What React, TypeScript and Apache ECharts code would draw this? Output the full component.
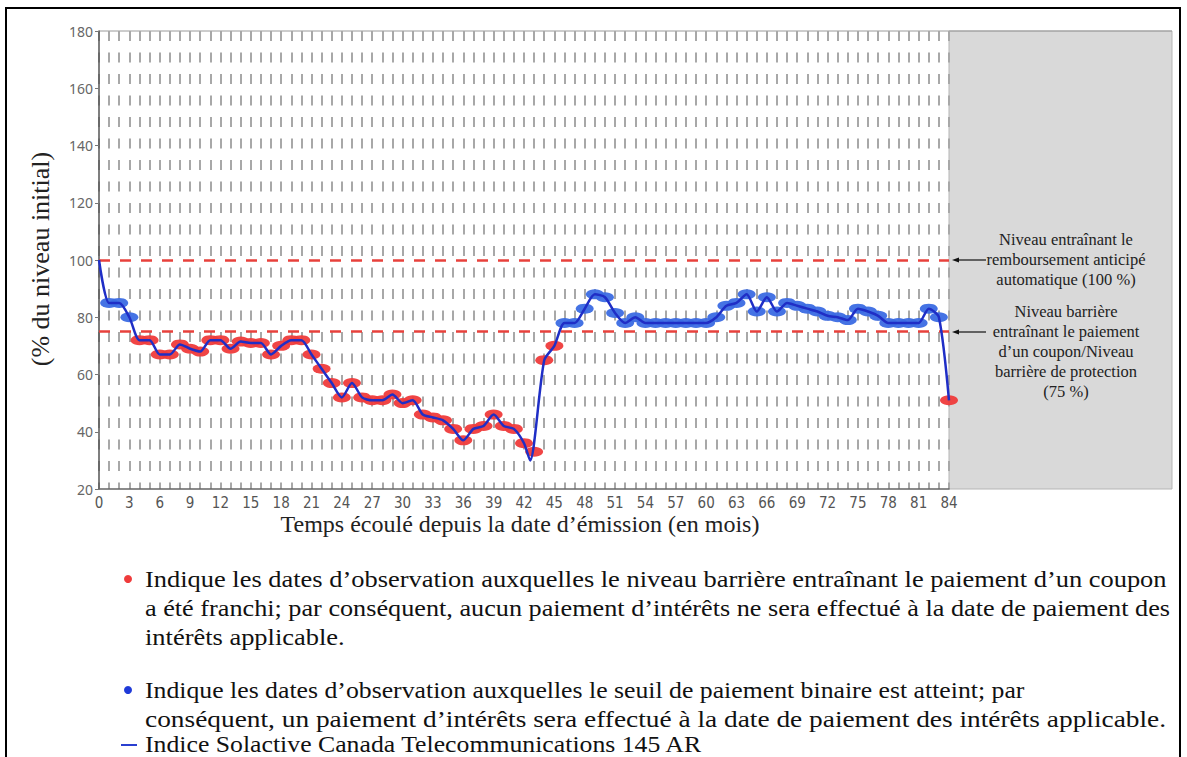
import React, { useEffect, useRef } from "react";
import * as echarts from "echarts";

// Niveau de l'indice (% du niveau initial) à chaque mois écoulé, index = mois (0..84)
const levels = [
  100, 85, 85, 80, 72, 72, 67, 67, 70.5, 69,
  68, 72, 72, 69, 71.5, 71, 71, 67, 70, 72,
  72, 67, 62, 57, 52, 57, 52, 51, 51, 53,
  50, 51, 46, 45, 44, 41, 37, 41, 42, 46,
  42, 41, 36, 33, 65, 70, 78, 78, 83, 88,
  87, 81.5, 78, 80, 78, 78, 78, 78, 78, 78,
  78, 80, 84, 85, 88, 82, 87, 82, 85, 84,
  83, 82, 80.5, 80, 79, 83, 82, 80.5, 78, 78,
  78, 78, 83, 80, 51,
];
// creux intra-mois de la courbe (entre les mois 42 et 43)
const troughMonth = 42.6;
const troughValue = 30;
const troughReplacesMonth = 43;

const autocallLevel = 100;
const barrierLevel = 75;

const yTicks = { min: 20, max: 180, interval: 20 };
const xTicks = { min: 0, max: 84, labelEvery: 3 };

const xTitle = "Temps écoulé depuis la date d’émission (en mois)";
const yTitle = "(% du niveau initial)";
const annotationAutocall = ["Niveau entraînant le", "remboursement anticipé", "automatique (100 %)"];
const annotationBarrier = [
  "Niveau barrière",
  "entraînant le paiement",
  "d’un coupon/Niveau",
  "barrière de protection",
  "(75 %)",
];
const legendRed = [
  "Indique les dates d’observation auxquelles le niveau barrière entraînant le paiement d’un coupon",
  "a été franchi; par conséquent, aucun paiement d’intérêts ne sera effectué à la date de paiement des",
  "intérêts applicable.",
];
const legendBlue = [
  "Indique les dates d’observation auxquelles le seuil de paiement binaire est atteint; par",
  "conséquent, un paiement d’intérêts sera effectué à la date de paiement des intérêts applicable.",
];
const legendLine = "Indice Solactive Canada Telecommunications 145 AR";

const RED = "#ef3b3b";
const BLUE = "#3b6be3";
const LINE = "#1f2ec6";

export default function App() {
  const ref = useRef<HTMLDivElement>(null);

  useEffect(() => {
    document.body.style.margin = "0";
    if (!ref.current) return;
    const chart = echarts.init(ref.current, null, { renderer: "svg" });

    const gridLeft = 99;
    const gridTop = 31;
    const gridW = 850;
    const gridH = 458;

    const lineData = levels.map((v, i) =>
      i === troughReplacesMonth ? [troughMonth, troughValue] : [i, v]
    );
    const redPts: number[][] = [];
    const bluePts: number[][] = [];
    levels.forEach((v, i) => {
      if (i === 0) return;
      if (v < barrierLevel) redPts.push([i, v]);
      else bluePts.push([i, v]);
    });

    const serif = "'Liberation Serif', 'Times New Roman', serif";
    const textEls: any[] = [];
    const annX = 1066;
    const annFont = `16.5px ${serif}`;
    annotationAutocall.forEach((t, k) =>
      textEls.push({
        type: "text",
        x: annX,
        y: 239 + k * 20,
        style: { text: t, font: annFont, fill: "#222", align: "center", verticalAlign: "middle" },
        z: 20,
      })
    );
    annotationBarrier.forEach((t, k) =>
      textEls.push({
        type: "text",
        x: annX,
        y: 311 + k * 20,
        style: { text: t, font: annFont, fill: "#222", align: "center", verticalAlign: "middle" },
        z: 20,
      })
    );
    const legFont = `23px ${serif}`;
    const legText = (t: string, y: number, sx: number) => ({
      type: "text",
      x: 145,
      y,
      scaleX: sx,
      style: { text: t, font: legFont, fill: "#111", align: "left", verticalAlign: "middle" },
    });
    const redScales = [1.15, 1.14, 1.15];
    const blueScales = [1.12, 1.19];
    legendRed.forEach((t, k) => textEls.push(legText(t, 579 + k * 29, redScales[k])));
    legendBlue.forEach((t, k) => textEls.push(legText(t, 690 + k * 29, blueScales[k])));
    textEls.push(legText(legendLine, 744, 1.12));
    textEls.push({
      type: "text",
      x: 520,
      y: 524,
      style: { text: xTitle, font: `24px ${serif}`, fill: "#222", align: "center", verticalAlign: "middle" },
    });
    textEls.push({
      type: "text",
      x: 40,
      y: 259,
      rotation: Math.PI / 2,
      style: { text: yTitle, font: `26px ${serif}`, fill: "#222", align: "center", verticalAlign: "middle" },
    });

    const arrow = (y: number) => [
      { type: "line", shape: { x1: 956, y1: y, x2: 986, y2: y }, style: { stroke: "#111", lineWidth: 1.2 }, z: 20 },
      {
        type: "polygon",
        shape: { points: [[952, y], [959, y - 2.5], [959, y + 2.5]] },
        style: { fill: "#111" },
        z: 20,
      },
    ];

    chart.setOption({
      animation: false,
      grid: { left: gridLeft, top: gridTop, width: gridW, height: gridH, containLabel: false },
      xAxis: {
        type: "value",
        min: xTicks.min,
        max: xTicks.max,
        interval: 1,
        axisLine: { show: true, lineStyle: { color: "#666", width: 1.5 } },
        axisTick: { show: false },
        axisLabel: {
          fontFamily: "'DejaVu Sans Condensed', 'Liberation Sans Narrow', 'Liberation Sans', sans-serif",
          fontSize: 15,
          color: "#555",
          margin: 6,
          formatter: (v: number) => (v % xTicks.labelEvery === 0 ? String(v) : ""),
        },
        splitLine: {
          show: true,
          lineStyle: { color: "#a8a8a8", width: 2, type: [10, 11.5], dashOffset: 0 },
        },
      },
      yAxis: {
        type: "value",
        min: yTicks.min,
        max: yTicks.max,
        interval: yTicks.interval,
        axisLine: { show: true, lineStyle: { color: "#555", width: 1.5 } },
        axisTick: { show: true, length: 4, lineStyle: { color: "#777" } },
        axisLabel: { fontFamily: "'Noto Sans', sans-serif", fontSize: 14, color: "#666", margin: 6 },
        splitLine: { show: false },
      },
      series: [
        {
          type: "scatter",
          data: redPts,
          symbol: "circle",
          symbolSize: [18, 10],
          itemStyle: { color: RED, opacity: 0.95 },
          z: 3,
        },
        {
          type: "scatter",
          data: bluePts,
          symbol: "circle",
          symbolSize: [18, 10],
          itemStyle: { color: BLUE, opacity: 0.95 },
          z: 3,
        },
        {
          type: "line",
          data: lineData,
          smooth: 0.25,
          showSymbol: false,
          symbol: "none",
          lineStyle: { color: LINE, width: 2.5 },
          z: 5,
          markLine: {
            silent: true,
            symbol: "none",
            label: { show: false },
            lineStyle: { color: "#e8413c", width: 2.5, type: [11, 10] },
            data: [{ yAxis: autocallLevel }, { yAxis: barrierLevel }],
          },
        },
      ],
      graphic: [
        {
          type: "rect",
          shape: { x: gridLeft + gridW, y: gridTop, width: 223, height: gridH },
          style: { fill: "#d9d9d9", stroke: "#b5b5b5", lineWidth: 1 },
          z: -1,
        },
        {
          type: "line",
          shape: { x1: gridLeft, y1: gridTop, x2: gridLeft + gridW + 223, y2: gridTop },
          style: { stroke: "#9a9a9a", lineWidth: 1 },
          z: -1,
        },
        {
          type: "rect",
          shape: { x: 6, y: 8, width: 1174, height: 770 },
          style: { fill: "none", stroke: "#000", lineWidth: 2 },
        },
        ...arrow(260),
        ...arrow(332),
        { type: "circle", shape: { cx: 128, cy: 579, r: 4 }, style: { fill: RED } },
        { type: "circle", shape: { cx: 128, cy: 690, r: 4 }, style: { fill: "#1f3ad8" } },
        { type: "line", shape: { x1: 121, y1: 745, x2: 137, y2: 745 }, style: { stroke: "#2a3fd0", lineWidth: 2 } },
        ...textEls,
      ],
    });

    return () => chart.dispose();
  }, []);

  return <div ref={ref} style={{ width: 1187, height: 757 }} />;
}
